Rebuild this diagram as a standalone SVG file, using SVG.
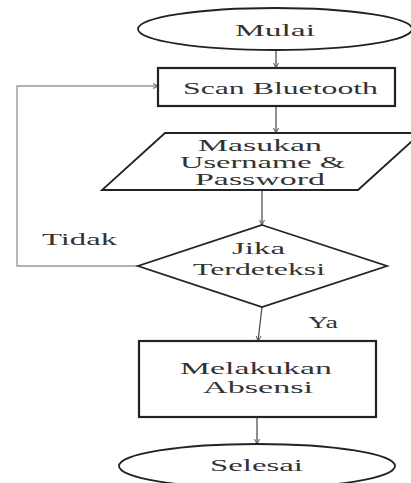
<svg xmlns="http://www.w3.org/2000/svg" width="411" height="483" viewBox="0 0 411 483">
<style>
.shape{fill:#fff;stroke:#222;stroke-width:1.8}
.box{fill:#fff;stroke:#222;stroke-width:2.2}
.conn{fill:none;stroke:#444;stroke-width:1.2}
.loop{fill:none;stroke:#999;stroke-width:1.4}
text{font-family:"Liberation Serif","Times New Roman",serif;font-size:16px;fill:#333}
</style>
<defs>
<marker id="ah" markerWidth="6" markerHeight="6" refX="5" refY="3" orient="auto" markerUnits="userSpaceOnUse">
<path d="M0,0.5 L5,3 L0,5.5" fill="none" stroke="#555" stroke-width="1"/>
</marker>
</defs>
<rect width="411" height="483" fill="#fff"/>
<g id="connectors">
<line class="conn" x1="276" y1="50" x2="276" y2="68" marker-end="url(#ah)"/>
<line class="conn" x1="276" y1="106" x2="276" y2="133" marker-end="url(#ah)"/>
<line class="conn" x1="262" y1="190" x2="262" y2="225" marker-end="url(#ah)"/>
<line class="conn" x1="262" y1="307" x2="258" y2="341" marker-end="url(#ah)"/>
<line class="conn" x1="257" y1="417" x2="257" y2="444" marker-end="url(#ah)"/>
<polyline class="loop" points="138,266 17,266 17,86 158,86" marker-end="url(#ah)"/>
<text x="42" y="245" textLength="75" lengthAdjust="spacingAndGlyphs">Tidak</text>
<text x="308" y="328" textLength="30" lengthAdjust="spacingAndGlyphs">Ya</text>
</g>
<g id="mulai">
<ellipse class="shape" cx="275" cy="29" rx="137" ry="21"/>
<text x="235" y="36" textLength="80" lengthAdjust="spacingAndGlyphs">Mulai</text>
</g>
<g id="scan">
<rect class="box" x="158" y="68" width="237" height="38"/>
<text x="183" y="94" textLength="195" lengthAdjust="spacingAndGlyphs">Scan Bluetooth</text>
</g>
<g id="input">
<polygon class="shape" points="165,133 421,133 358,190 102,190"/>
<text x="198" y="151" textLength="124" lengthAdjust="spacingAndGlyphs">Masukan</text>
<text x="180" y="168" textLength="165" lengthAdjust="spacingAndGlyphs">Username &amp;</text>
<text x="195" y="185" textLength="130" lengthAdjust="spacingAndGlyphs">Password</text>
</g>
<g id="decision">
<polygon class="shape" points="262,225 387,266 262,307 138,266"/>
<text x="232" y="254" textLength="53" lengthAdjust="spacingAndGlyphs">Jika</text>
<text x="193" y="275" textLength="132" lengthAdjust="spacingAndGlyphs">Terdeteksi</text>
</g>
<g id="absensi">
<rect class="box" x="139" y="341" width="237" height="76"/>
<text x="180" y="374" textLength="152" lengthAdjust="spacingAndGlyphs">Melakukan</text>
<text x="203" y="393" textLength="110" lengthAdjust="spacingAndGlyphs">Absensi</text>
</g>
<g id="selesai">
<ellipse class="shape" cx="257" cy="466" rx="138" ry="22"/>
<text x="210" y="471" textLength="93" lengthAdjust="spacingAndGlyphs">Selesai</text>
</g>
</svg>
